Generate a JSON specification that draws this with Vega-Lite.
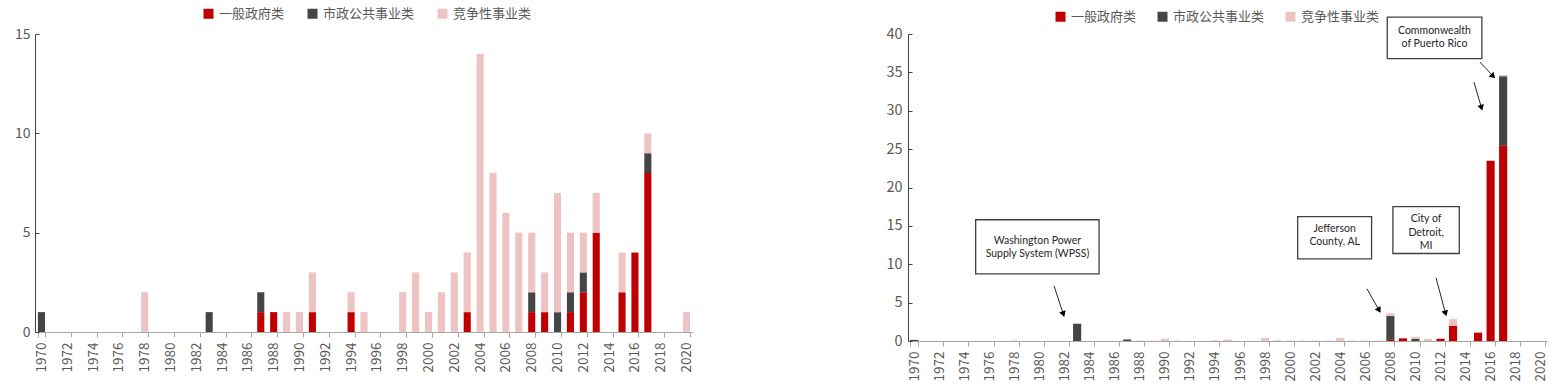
{
  "$schema": "https://vega.github.io/schema/vega-lite/v6.json",
  "background": "white",
  "padding": {"left": 14, "top": 7, "right": 5, "bottom": 5},
  "bounds": "flush",
  "spacing": 215,
  "config": {
    "view": {"stroke": null},
    "font": "Noto Sans CJK SC",
    "axis": {"labelColor": "#595959", "labelFontSize": 13, "title": null, "grid": false, "domainColor": "#A6A6A6", "tickColor": "#A6A6A6", "labelOverlap": false},
    "legend": {"orient": "none", "direction": "horizontal", "title": null, "symbolType": "square", "symbolSize": 100, "symbolStrokeWidth": 0, "labelFontSize": 13, "labelColor": "#595959", "labelOffset": 4, "columnPadding": 21}
  },
  "datasets": {
    "left": [
      {"year": 1970, "cat": "市政公共事业类", "n": 1},
      {"year": 1978, "cat": "竞争性事业类", "n": 2},
      {"year": 1983, "cat": "市政公共事业类", "n": 1},
      {"year": 1987, "cat": "一般政府类", "n": 1},
      {"year": 1987, "cat": "市政公共事业类", "n": 1},
      {"year": 1988, "cat": "一般政府类", "n": 1},
      {"year": 1989, "cat": "竞争性事业类", "n": 1},
      {"year": 1990, "cat": "竞争性事业类", "n": 1},
      {"year": 1991, "cat": "一般政府类", "n": 1},
      {"year": 1991, "cat": "竞争性事业类", "n": 2},
      {"year": 1994, "cat": "一般政府类", "n": 1},
      {"year": 1994, "cat": "竞争性事业类", "n": 1},
      {"year": 1995, "cat": "竞争性事业类", "n": 1},
      {"year": 1998, "cat": "竞争性事业类", "n": 2},
      {"year": 1999, "cat": "竞争性事业类", "n": 3},
      {"year": 2000, "cat": "竞争性事业类", "n": 1},
      {"year": 2001, "cat": "竞争性事业类", "n": 2},
      {"year": 2002, "cat": "竞争性事业类", "n": 3},
      {"year": 2003, "cat": "一般政府类", "n": 1},
      {"year": 2003, "cat": "竞争性事业类", "n": 3},
      {"year": 2004, "cat": "竞争性事业类", "n": 14},
      {"year": 2005, "cat": "竞争性事业类", "n": 8},
      {"year": 2006, "cat": "竞争性事业类", "n": 6},
      {"year": 2007, "cat": "竞争性事业类", "n": 5},
      {"year": 2008, "cat": "一般政府类", "n": 1},
      {"year": 2008, "cat": "市政公共事业类", "n": 1},
      {"year": 2008, "cat": "竞争性事业类", "n": 3},
      {"year": 2009, "cat": "一般政府类", "n": 1},
      {"year": 2009, "cat": "竞争性事业类", "n": 2},
      {"year": 2010, "cat": "市政公共事业类", "n": 1},
      {"year": 2010, "cat": "竞争性事业类", "n": 6},
      {"year": 2011, "cat": "一般政府类", "n": 1},
      {"year": 2011, "cat": "市政公共事业类", "n": 1},
      {"year": 2011, "cat": "竞争性事业类", "n": 3},
      {"year": 2012, "cat": "一般政府类", "n": 2},
      {"year": 2012, "cat": "市政公共事业类", "n": 1},
      {"year": 2012, "cat": "竞争性事业类", "n": 2},
      {"year": 2013, "cat": "一般政府类", "n": 5},
      {"year": 2013, "cat": "竞争性事业类", "n": 2},
      {"year": 2015, "cat": "一般政府类", "n": 2},
      {"year": 2015, "cat": "竞争性事业类", "n": 2},
      {"year": 2016, "cat": "一般政府类", "n": 4},
      {"year": 2017, "cat": "一般政府类", "n": 8},
      {"year": 2017, "cat": "市政公共事业类", "n": 1},
      {"year": 2017, "cat": "竞争性事业类", "n": 1},
      {"year": 2020, "cat": "竞争性事业类", "n": 1}
    ],
    "right": [
      {"year": 1970, "cat": "市政公共事业类", "v": 0.15},
      {"year": 1978, "cat": "竞争性事业类", "v": 0.05},
      {"year": 1983, "cat": "市政公共事业类", "v": 2.25},
      {"year": 1987, "cat": "市政公共事业类", "v": 0.2},
      {"year": 1988, "cat": "竞争性事业类", "v": 0.05},
      {"year": 1989, "cat": "竞争性事业类", "v": 0.05},
      {"year": 1990, "cat": "竞争性事业类", "v": 0.3},
      {"year": 1991, "cat": "竞争性事业类", "v": 0.05},
      {"year": 1994, "cat": "竞争性事业类", "v": 0.1},
      {"year": 1995, "cat": "竞争性事业类", "v": 0.2},
      {"year": 1998, "cat": "竞争性事业类", "v": 0.4},
      {"year": 1999, "cat": "竞争性事业类", "v": 0.1},
      {"year": 2000, "cat": "竞争性事业类", "v": 0.05},
      {"year": 2001, "cat": "竞争性事业类", "v": 0.05},
      {"year": 2002, "cat": "竞争性事业类", "v": 0.05},
      {"year": 2003, "cat": "竞争性事业类", "v": 0.05},
      {"year": 2004, "cat": "竞争性事业类", "v": 0.4},
      {"year": 2005, "cat": "竞争性事业类", "v": 0.05},
      {"year": 2006, "cat": "竞争性事业类", "v": 0.05},
      {"year": 2007, "cat": "竞争性事业类", "v": 0.05},
      {"year": 2008, "cat": "一般政府类", "v": 0.15},
      {"year": 2008, "cat": "市政公共事业类", "v": 3.1},
      {"year": 2008, "cat": "竞争性事业类", "v": 0.35},
      {"year": 2009, "cat": "一般政府类", "v": 0.35},
      {"year": 2010, "cat": "市政公共事业类", "v": 0.3},
      {"year": 2010, "cat": "竞争性事业类", "v": 0.25},
      {"year": 2011, "cat": "竞争性事业类", "v": 0.3},
      {"year": 2012, "cat": "一般政府类", "v": 0.3},
      {"year": 2012, "cat": "竞争性事业类", "v": 0.05},
      {"year": 2013, "cat": "一般政府类", "v": 2.0},
      {"year": 2013, "cat": "竞争性事业类", "v": 0.85},
      {"year": 2015, "cat": "一般政府类", "v": 1.1},
      {"year": 2015, "cat": "竞争性事业类", "v": 0.05},
      {"year": 2016, "cat": "一般政府类", "v": 23.5},
      {"year": 2017, "cat": "一般政府类", "v": 25.5},
      {"year": 2017, "cat": "市政公共事业类", "v": 9.0},
      {"year": 2017, "cat": "竞争性事业类", "v": 0.15}
    ],
    "notes": [
      {"label": "Washington Power\nSupply System (WPSS)", "x1": 1974.9, "x2": 1984.75, "y1": 8.75, "y2": 15.8, "xc": 1979.83, "ty": 13.05},
      {"label": "Jefferson\nCounty, AL", "x1": 2000.6, "x2": 2006.5, "y1": 10.7, "y2": 16.2, "xc": 2003.55, "ty": 14.6},
      {"label": "City of\nDetroit,\nMI", "x1": 2008.2, "x2": 2013.5, "y1": 11.4, "y2": 17.5, "xc": 2010.85, "ty": 15.85},
      {"label": "Commonwealth\nof Puerto Rico", "x1": 2007.75, "x2": 2015.3, "y1": 36.8, "y2": 42.2, "xc": 2011.52, "ty": 40.4}
    ],
    "arrows": [
      {"id": "a", "x1": 1981.15, "y1": 7.2, "x2": 1981.9, "y2": 3.5},
      {"id": "b", "x1": 2006.13, "y1": 6.8, "x2": 2007.1, "y2": 4.0},
      {"id": "c", "x1": 2011.64, "y1": 8.24, "x2": 2012.4, "y2": 3.6},
      {"id": "d", "x1": 2015.15, "y1": 36.34, "x2": 2016.2, "y2": 34.5},
      {"id": "e", "x1": 2014.67, "y1": 33.73, "x2": 2015.27, "y2": 30.4}
    ]
  },
  "hconcat": [
    {
      "width": 658,
      "height": 298,
      "data": {"name": "left"},
      "mark": {"type": "bar"},
      "encoding": {
        "x": {
          "field": "year", "type": "ordinal",
          "scale": {"domain": [1970,1971,1972,1973,1974,1975,1976,1977,1978,1979,1980,1981,1982,1983,1984,1985,1986,1987,1988,1989,1990,1991,1992,1993,1994,1995,1996,1997,1998,1999,2000,2001,2002,2003,2004,2005,2006,2007,2008,2009,2010,2011,2012,2013,2014,2015,2016,2017,2018,2019,2020], "paddingInner": 0.45},
          "axis": {"values": [1970,1972,1974,1976,1978,1980,1982,1984,1986,1988,1990,1992,1994,1996,1998,2000,2002,2004,2006,2008,2010,2012,2014,2016,2018,2020], "labelAngle": -90, "tickBand": "extent", "tickSize": 5, "labelPadding": 5, "labelFontSize": 13.5}
        },
        "y": {
          "field": "n", "type": "quantitative", "stack": "zero",
          "scale": {"domain": [0, 15]},
          "axis": {"values": [0, 5, 10, 15], "domainColor": "#404040", "tickColor": "#404040", "tickSize": -4, "labelPadding": 9, "labelFontSize": 14}
        },
        "color": {
          "field": "cat", "type": "nominal",
          "scale": {"domain": ["一般政府类", "市政公共事业类", "竞争性事业类"], "range": ["#C00000", "#454545", "#EEC3C3"]},
          "legend": {"legendX": 167, "legendY": -27}
        },
        "order": {"field": "cat", "sort": "ascending"}
      }
    },
    {
      "width": 639,
      "height": 307,
      "layer": [
        {
          "data": {"name": "right"},
          "mark": {"type": "bar"},
          "encoding": {
            "x": {
              "field": "year", "type": "ordinal",
              "scale": {"domain": [1970,1971,1972,1973,1974,1975,1976,1977,1978,1979,1980,1981,1982,1983,1984,1985,1986,1987,1988,1989,1990,1991,1992,1993,1994,1995,1996,1997,1998,1999,2000,2001,2002,2003,2004,2005,2006,2007,2008,2009,2010,2011,2012,2013,2014,2015,2016,2017,2018,2019,2020], "paddingInner": 0.35},
              "axis": {"values": [1970,1972,1974,1976,1978,1980,1982,1984,1986,1988,1990,1992,1994,1996,1998,2000,2002,2004,2006,2008,2010,2012,2014,2016,2018,2020], "labelAngle": -90, "tickBand": "extent", "tickSize": 5, "labelPadding": 5, "labelFontSize": 13.5}
            },
            "y": {
              "field": "v", "type": "quantitative", "stack": "zero",
              "scale": {"domain": [0, 40]},
              "axis": {"values": [0, 5, 10, 15, 20, 25, 30, 35, 40], "labelOverlap": false, "domainColor": "#404040", "tickColor": "#404040", "tickSize": -4, "labelPadding": 10, "labelFontSize": 14.5}
            },
            "color": {
              "field": "cat", "type": "nominal",
              "scale": {"domain": ["一般政府类", "市政公共事业类", "竞争性事业类"], "range": ["#C00000", "#454545", "#EEC3C3"]},
              "legend": {"legendX": 146, "legendY": -24, "columnPadding": 19}
            },
            "order": {"field": "cat", "sort": "ascending"}
          }
        },
        {
          "layer": [
            {
              "data": {"name": "notes"},
              "mark": {"type": "rect", "fill": "white", "stroke": "#404040", "strokeWidth": 1.3},
              "encoding": {
                "x": {"field": "x1", "type": "quantitative", "scale": {"domain": [1969.5, 2020.5], "nice": false, "zero": false}, "axis": null},
                "x2": {"field": "x2"},
                "y": {"field": "y1", "type": "quantitative", "axis": {"values": [0, 5, 10, 15, 20, 25, 30, 35, 40], "labelOverlap": false, "domainColor": "#404040", "tickColor": "#404040", "tickSize": -4, "labelPadding": 10, "labelFontSize": 14.5}},
                "y2": {"field": "y2"}
              }
            },
            {
              "data": {"name": "notes"},
              "mark": {"type": "text", "font": "Lato", "fontSize": 10.5, "lineHeight": 13.3, "lineBreak": "\n", "align": "center", "baseline": "middle", "color": "#262626"},
              "encoding": {
                "x": {"field": "xc", "type": "quantitative"},
                "y": {"field": "ty", "type": "quantitative", "axis": {"values": [0, 5, 10, 15, 20, 25, 30, 35, 40], "labelOverlap": false, "domainColor": "#404040", "tickColor": "#404040", "tickSize": -4, "labelPadding": 10, "labelFontSize": 14.5}},
                "text": {"field": "label"}
              }
            },
            {
              "data": {"name": "arrows"},
              "mark": {"type": "rule", "color": "#262626", "strokeWidth": 1},
              "encoding": {
                "x": {"field": "x1", "type": "quantitative"},
                "x2": {"field": "x2"},
                "y": {"field": "y1", "type": "quantitative", "axis": {"values": [0, 5, 10, 15, 20, 25, 30, 35, 40], "labelOverlap": false, "domainColor": "#404040", "tickColor": "#404040", "tickSize": -4, "labelPadding": 10, "labelFontSize": 14.5}},
                "y2": {"field": "y2"}
              }
            },
            {
              "data": {"name": "arrows"},
              "mark": {"type": "point", "shape": "triangle-down", "filled": true, "color": "#000000", "size": 45, "opacity": 1},
              "encoding": {
                "x": {"field": "x2", "type": "quantitative"},
                "y": {"field": "y2", "type": "quantitative", "axis": {"values": [0, 5, 10, 15, 20, 25, 30, 35, 40], "labelOverlap": false, "domainColor": "#404040", "tickColor": "#404040", "tickSize": -4, "labelPadding": 10, "labelFontSize": 14.5}},
                "angle": {"field": "id", "type": "nominal", "scale": {"type": "ordinal", "domain": ["a", "b", "c", "d", "e"], "range": [342, 330, 345, 317, 343]}, "legend": null}
              }
            }
          ]
        }
      ],
      "resolve": {"scale": {"x": "independent"}}
    }
  ],
  "resolve": {"scale": {"color": "independent"}, "legend": {"color": "independent"}}
}
